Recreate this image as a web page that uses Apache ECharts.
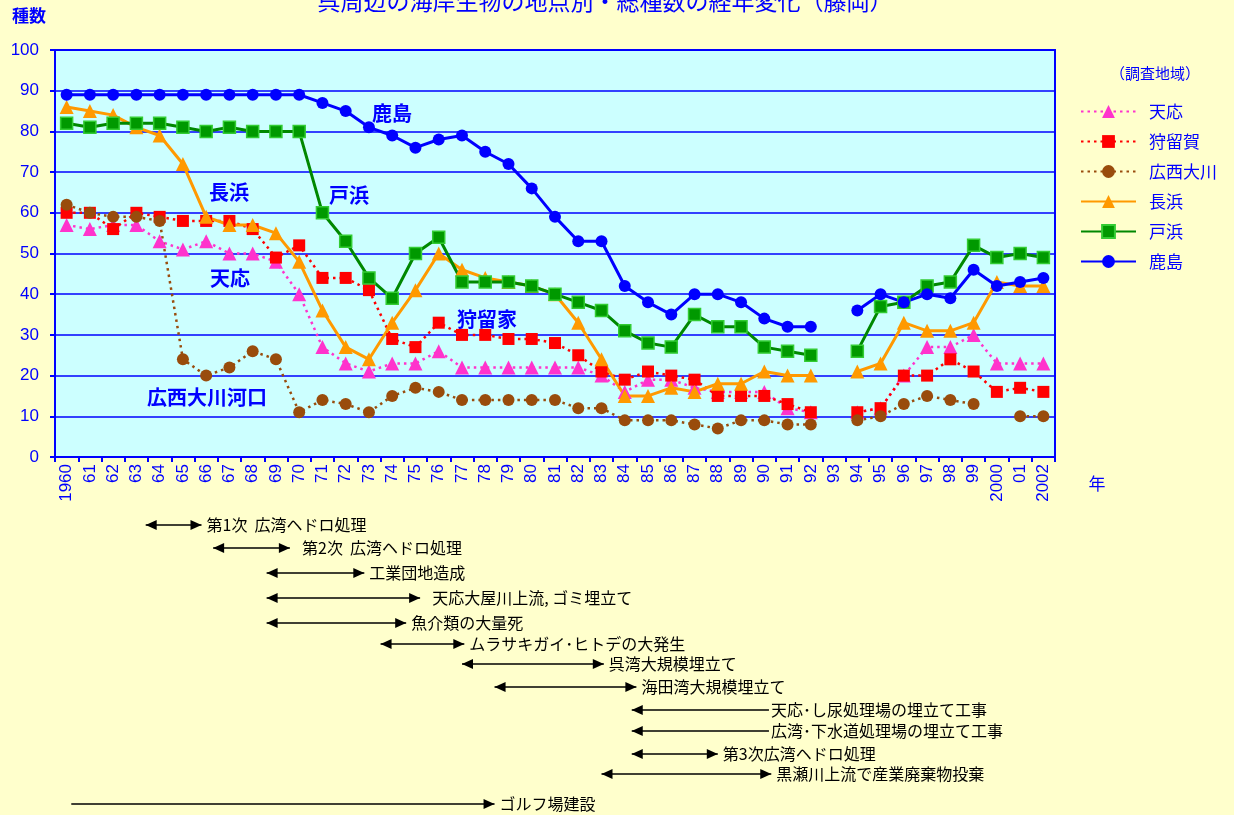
<!DOCTYPE html>
<html>
<head>
<meta charset="utf-8">
<script src="https://cdn.jsdelivr.net/npm/echarts@6/dist/echarts.min.js"></script>
<style>
html,body{margin:0;padding:0;background:#FFFFCC;}
#main{width:1234px;height:815px;}
</style>
</head>
<body>
<div id="main"></div>
<script>
// years 1960-2002 (1993 = no survey)
var years = ['1960','61','62','63','64','65','66','67','68','69','70','71','72','73','74','75','76','77','78','79','80','81','82','83','84','85','86','87','88','89','90','91','92','93','94','95','96','97','98','99','2000','01','2002'];

var tenno    = [57,56,57,57,53,51,53,50,50,48,40,27,23,21,23,23,26,22,22,22,22,22,22,20,16,19,19,17,16,16,16,12,11,null,11,12,20,27,27,30,23,23,23];
var karuga   = [60,60,56,60,59,58,58,58,56,49,52,44,44,41,29,27,33,30,30,29,29,28,25,21,19,21,20,19,15,15,15,13,11,null,11,12,20,20,24,21,16,17,16];
var hironishi= [62,60,59,59,58,24,20,22,26,24,11,14,13,11,15,17,16,14,14,14,14,14,12,12,9,9,9,8,7,9,9,8,8,null,9,10,13,15,14,13,null,10,10];
var nagahama = [86,85,84,81,79,72,59,57,57,55,48,36,27,24,33,41,50,46,44,43,42,40,33,24,15,15,17,16,18,18,21,20,20,null,21,23,33,31,31,33,43,42,42];
var tohama   = [82,81,82,82,82,81,80,81,80,80,80,60,53,44,39,50,54,43,43,43,42,40,38,36,31,28,27,35,32,32,27,26,25,null,26,37,38,42,43,52,49,50,49];
var kashima  = [89,89,89,89,89,89,89,89,89,89,89,87,85,81,79,76,78,79,75,72,66,59,53,53,42,38,35,40,40,38,34,32,32,null,36,40,38,40,39,46,42,43,44];

// events under the chart (year spans)
var evLabels = ['第1次  広湾ヘドロ処理','  第2次  広湾ヘドロ処理','工業団地造成','  天応大屋川上流, ゴミ埋立て','魚介類の大量死','ムラサキガイ･ヒトデの大発生','呉湾大規模埋立て','海田湾大規模埋立て','天応･し尿処理場の埋立て工事','広湾･下水道処理場の埋立て工事','第3次広湾ヘドロ処理','黒瀬川上流で産業廃棄物投棄','ゴルフ場建設'];
var evStart = [1963.4,1966.3,1968.6,1968.6,1968.6,1973.5,1977.0,1978.4,1984.3,1984.3,1984.3,1983.0,1960.2];
var evEnd   = [1965.8,1969.6,1972.8,1975.2,1974.6,1977.1,1983.1,1984.5,1990.2,1990.2,1988.0,1990.3,1978.4];
var evHead  = ['both','both','both','both','both','both','both','both','left','left','both','both','right'];

var blue = '#0000FF';
var numFont = 'Liberation Sans, Noto Sans CJK JP';
var jpFont = 'Noto Sans CJK JP';

var chart = echarts.init(document.getElementById('main'));

function ser(name, data, color, symbol, dotted, extra) {
	var s = {
		name: name,
		type: 'line',
		data: data,
		symbol: symbol,
		symbolSize: symbol == 'triangle' ? 14 : 12,
		connectNulls: false,
		animation: false,
		lineStyle: {color: color, width: dotted ? 2.5 : 3, type: dotted ? [2.5, 4] : 'solid'},
		itemStyle: {color: color}
	};
	if (extra) s.itemStyle = extra;
	return s;
}

var option = {
	backgroundColor: '#FFFFCC',
	animation: false,
	grid: {
		left: 55, top: 50, width: 1000, height: 407,
		show: true, backgroundColor: '#CCFFFF',
		borderColor: blue, borderWidth: 2
	},
	legend: {
		orient: 'vertical',
		left: 1080, top: 103,
		padding: 0,
		itemWidth: 55, itemHeight: 16, itemGap: 13,
		textStyle: {color: blue, fontSize: 17, fontFamily: jpFont, padding: [0, 0, 0, 8]},
		data: ['天応','狩留賀','広西大川','長浜','戸浜','鹿島']
	},
	xAxis: {
		type: 'category',
		data: years,
		boundaryGap: true,
		axisLine: {lineStyle: {color: blue, width: 2}},
		axisTick: {show: true, length: 5, lineStyle: {color: blue, width: 2}},
		axisLabel: {interval: 0, rotate: 90, color: blue, fontSize: 17, fontFamily: numFont, margin: 7},
		splitLine: {show: false}
	},
	yAxis: {
		type: 'value',
		min: 0, max: 100, interval: 10,
		axisLine: {show: true, lineStyle: {color: blue, width: 2}},
		axisTick: {show: true, length: 5, lineStyle: {color: blue, width: 2}},
		axisLabel: {color: blue, fontSize: 17, fontFamily: numFont, margin: 16},
		splitLine: {lineStyle: {color: blue, width: 1.5}}
	},
	series: [
		ser('天応', tenno, '#FF33CC', 'triangle', true),
		ser('狩留賀', karuga, '#FF0000', 'rect', true),
		ser('広西大川', hironishi, '#994C0C', 'circle', true),
		ser('長浜', nagahama, '#FF9900', 'triangle', false),
		ser('戸浜', tohama, '#008800', 'rect', false, {color: '#009900', borderColor: '#33CC33', borderWidth: 1.5}),
		ser('鹿島', kashima, '#0000FF', 'circle', false)
	]
};
chart.setOption(option);

// text + event arrows
var g = [];
function txt(x, y, s, size, color, weight, align) {
	g.push({type: 'text', x: x, y: y, silent: true, style: {
		text: s, fill: color, font: (weight || 'normal') + ' ' + size + 'px ' + jpFont,
		textAlign: align || 'center', textVerticalAlign: 'middle'}});
}
txt(605, 1, '呉周辺の海岸生物の地点別・総種数の経年変化（藤岡）', 23, blue);
txt(29, 16, '種数', 17, blue, 'bold');
txt(1097, 484, '年', 17, blue);
txt(1155, 73, '（調査地域）', 15, blue);

txt(392, 113, '鹿島', 20, blue, 'bold');
txt(229, 192, '長浜', 20, blue, 'bold');
txt(349, 195, '戸浜', 20, blue, 'bold');
txt(230, 278, '天応', 20, blue, 'bold');
txt(487, 319, '狩留家', 20, blue, 'bold');
txt(207, 397, '広西大川河口', 20, blue, 'bold');

var x0 = chart.convertToPixel({xAxisIndex: 0}, 0);
var x1 = chart.convertToPixel({xAxisIndex: 0}, 1);
function yearX(y) { return x0 + (y - 1960) * (x1 - x0); }
var rowY = [525, 548, 573, 598, 623, 644, 664, 687, 710, 731, 754, 774, 804];

for (var i = 0; i < evLabels.length; i++) {
	var a = yearX(evStart[i]), b = yearX(evEnd[i]), y = rowY[i];
	g.push({type: 'line', silent: true, shape: {x1: a, y1: y, x2: b, y2: y}, style: {stroke: '#000', lineWidth: 1.5}});
	if (evHead[i] != 'right') {
		g.push({type: 'polygon', silent: true, shape: {points: [[a, y], [a + 11, y - 5], [a + 11, y + 5]]}, style: {fill: '#000'}});
	}
	if (evHead[i] != 'left') {
		g.push({type: 'polygon', silent: true, shape: {points: [[b, y], [b - 11, y - 5], [b - 11, y + 5]]}, style: {fill: '#000'}});
	}
	txt(b + (evHead[i] == 'left' ? 2 : 5), y, evLabels[i], 16, '#000', 'normal', 'left');
}
chart.setOption({graphic: g});
</script>
</body>
</html>
